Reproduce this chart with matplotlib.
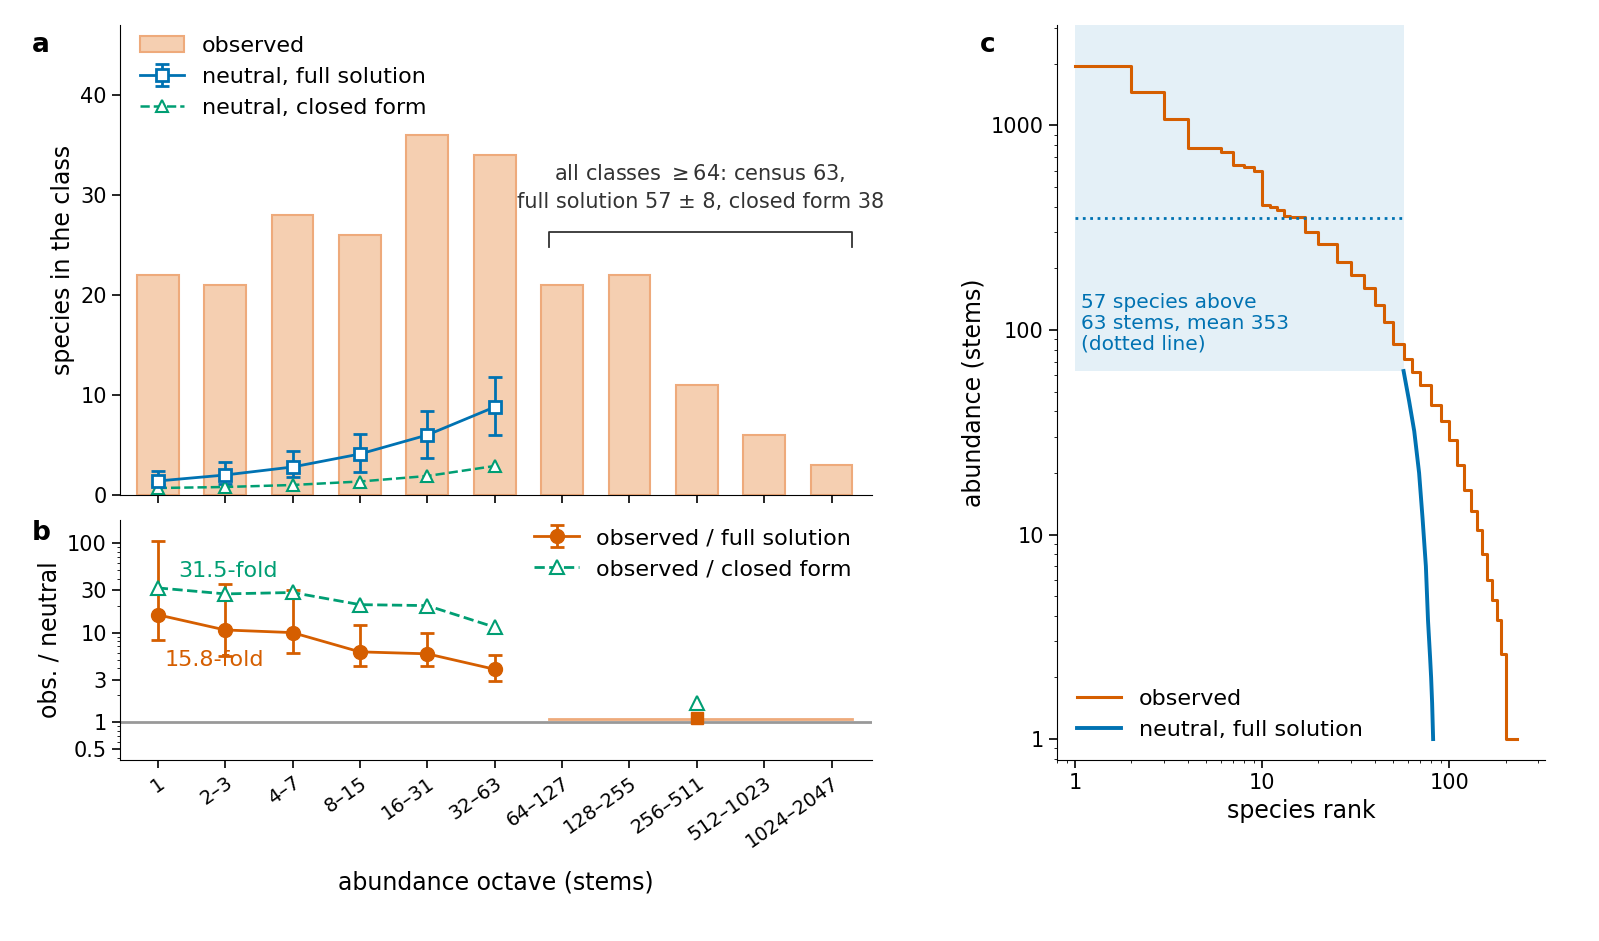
import matplotlib
matplotlib.use("Agg")
import matplotlib.pyplot as plt
import numpy as np

octaves = ["1", "2–3", "4–7", "8–15", "16–31", "32–63", "64–127", "128–255", "256–511", "512–1023", "1024–2047"]
observed = [22, 21, 28, 26, 36, 34, 21, 22, 11, 6, 3]
full_mean = [1.4, 2.0, 2.8, 4.1, 6.0, 8.8]
full_lo = [1.0, 1.1, 1.8, 2.3, 3.7, 6.0]
full_hi = [2.4, 3.3, 4.4, 6.1, 8.4, 11.8]
closed_mean = [0.7, 0.8, 1.0, 1.35, 1.9, 2.9]
ratio_full = [15.8, 10.7, 10.0, 6.1, 5.8, 3.9]
ratio_full_lo = [8.3, 5.5, 6.0, 4.2, 4.2, 2.9]
ratio_full_hi = [105, 35, 30, 12.3, 10.0, 5.6]
ratio_closed = [31.5, 27, 28, 20.5, 20, 11.5]
pooled_full = 1.105
pooled_closed = 1.66

obs_rank = [1, 2, 3, 4, 5, 6, 7, 8, 9, 10, 11, 12, 13, 14, 17, 20, 25, 30, 35, 40, 45, 50, 57, 63, 70, 80, 90, 100, 110, 120, 130, 140, 150, 160, 170, 180, 190, 200, 202, 208, 230]
obs_abund = [1950, 1450, 1070, 780, 780, 740, 640, 630, 600, 410, 400, 385, 360, 355, 300, 262, 215, 186, 160, 133, 110, 85, 72, 62, 54, 43, 36, 29, 22, 16.5, 13, 10.5, 8, 6, 4.8, 3.8, 2.6, 2, 1, 1, 1]
neu_rank = [57, 61, 65, 69, 72, 75, 77, 79, 80, 81, 82]
neu_abund = [63, 45, 32, 20, 12, 7, 3.8, 2.5, 2, 1.5, 1]

ORANGE = "#d55e00"
BLUE = "#0072b2"
GREEN = "#009e73"
BAR = "#f5cfb1"
BAREDGE = "#eeaa7b"

fig = plt.figure(figsize=(15.99, 9.41), dpi=100)
W, H = 1599, 941
def ax_px(l, t, r, b):
    return fig.add_axes([l / W, 1 - b / H, (r - l) / W, (b - t) / H])

axa = ax_px(120, 25, 872, 495)
axb = ax_px(120, 520, 872, 760)
axc = ax_px(1057, 25, 1545, 760)

x = np.arange(len(octaves))
x6 = x[:6]

hb = axa.bar(x, observed, width=0.62, color=BAR, edgecolor=BAREDGE, lw=1.5, label="observed")
he = axa.errorbar(x6, full_mean, yerr=[np.array(full_mean) - full_lo, np.array(full_hi) - full_mean],
             color=BLUE, marker="s", mfc="white", mec=BLUE, ms=9, mew=2, lw=2, capsize=5, capthick=2,
             label="neutral, full solution")
hc, = axa.plot(x6, closed_mean, color=GREEN, ls="--", marker="^", mfc="white", mec=GREEN, ms=9, mew=1.5, lw=1.8,
         label="neutral, closed form")
axa.set_xlim(-0.56, 10.6)
axa.set_ylim(0, 47)
axa.set_yticks([0, 10, 20, 30, 40])
axa.set_xticks(x)
axa.set_xticklabels([])
axa.set_ylabel("species in the class", fontsize=17)
axa.tick_params(labelsize=15, length=6, width=1.2)
for s in ["top", "right"]:
    axa.spines[s].set_visible(False)
axa.legend([hb, he, hc], ["observed", "neutral, full solution", "neutral, closed form"],
           loc="upper left", fontsize=16, frameon=False, bbox_to_anchor=(0.0, 1.02))
axa.plot([5.8, 5.8, 10.3, 10.3], [24.8, 26.3, 26.3, 24.8], color="#333333", lw=1.3)
axa.text(8.05, 30.8, "all classes $\\geq$64: census 63,\nfull solution 57 ± 8, closed form 38",
         ha="center", va="center", fontsize=15, color="#333333", linespacing=1.5)
fig.text(32 / W, 1 - 52 / H, "a", fontsize=19, fontweight="bold")
fig.text(32 / W, 1 - 540 / H, "b", fontsize=19, fontweight="bold")
fig.text(980 / W, 1 - 52 / H, "c", fontsize=19, fontweight="bold")

axb.set_yscale("log")
axb.axhline(1, color="#999999", lw=2)
axb.plot([5.8, 10.3], [1.08, 1.08], color=BAREDGE, lw=2)
hf = axb.errorbar(x6, ratio_full, yerr=[np.array(ratio_full) - ratio_full_lo, np.array(ratio_full_hi) - ratio_full],
             color=ORANGE, marker="o", ms=10, lw=2, capsize=5, capthick=2, label="observed / full solution")
hcl, = axb.plot(x6, ratio_closed, color=GREEN, ls="--", marker="^", mfc="white", mec=GREEN, ms=10, mew=1.5, lw=2,
         label="observed / closed form")
axb.plot([8], [pooled_full], marker="s", color=ORANGE, ms=9)
axb.plot([8], [pooled_closed], marker="^", mfc="white", mec=GREEN, mew=1.5, ms=10)
axb.text(0.3, 48, "31.5-fold", color=GREEN, fontsize=16, va="center")
axb.text(0.1, 5.0, "15.8-fold", color=ORANGE, fontsize=16, va="center")
axb.set_xlim(-0.56, 10.6)
axb.set_ylim(0.38, 180)
axb.set_yticks([0.5, 1, 3, 10, 30, 100])
axb.set_yticklabels(["0.5", "1", "3", "10", "30", "100"])
axb.set_xticks(x)
axb.set_xticklabels(octaves, rotation=35, ha="right", rotation_mode="anchor", fontsize=13.5)
axb.set_ylabel("obs. / neutral", fontsize=17)
axb.set_xlabel("abundance octave (stems)", fontsize=17, labelpad=14)
axb.tick_params(labelsize=15, length=6, width=1.2)
axb.tick_params(axis="x", labelsize=14)
for s in ["top", "right"]:
    axb.spines[s].set_visible(False)
axb.legend([hf, hcl], ["observed / full solution", "observed / closed form"],
           loc="upper right", fontsize=16, frameon=False, bbox_to_anchor=(1.0, 1.05))

axc.set_xscale("log")
axc.set_yscale("log")
axc.fill_between([1, 57], 63, 3100, color="#e4f0f7", lw=0)
axc.plot(obs_rank, obs_abund, color=ORANGE, lw=2.2, label="observed", drawstyle="steps-post")
axc.plot(neu_rank, neu_abund, color=BLUE, lw=2.8, label="neutral, full solution")
axc.plot([1, 57], [353, 353], color=BLUE, ls=":", lw=2)
axc.text(1.07, 108, "57 species above\n63 stems, mean 353\n(dotted line)", color=BLUE, fontsize=14.5, va="center", linespacing=1.1)
axc.set_xlim(0.8, 325)
axc.set_ylim(0.79, 3100)
axc.set_xticks([1, 10, 100])
axc.set_xticklabels(["1", "10", "100"])
axc.set_yticks([1, 10, 100, 1000])
axc.set_yticklabels(["1", "10", "100", "1000"])
axc.set_xlabel("species rank", fontsize=17)
axc.set_ylabel("abundance (stems)", fontsize=17)
axc.tick_params(labelsize=15, length=6, width=1.2)
for s in ["top", "right"]:
    axc.spines[s].set_visible(False)
axc.legend(loc="lower left", fontsize=16, frameon=False)

fig.savefig("out.png", dpi=100)
